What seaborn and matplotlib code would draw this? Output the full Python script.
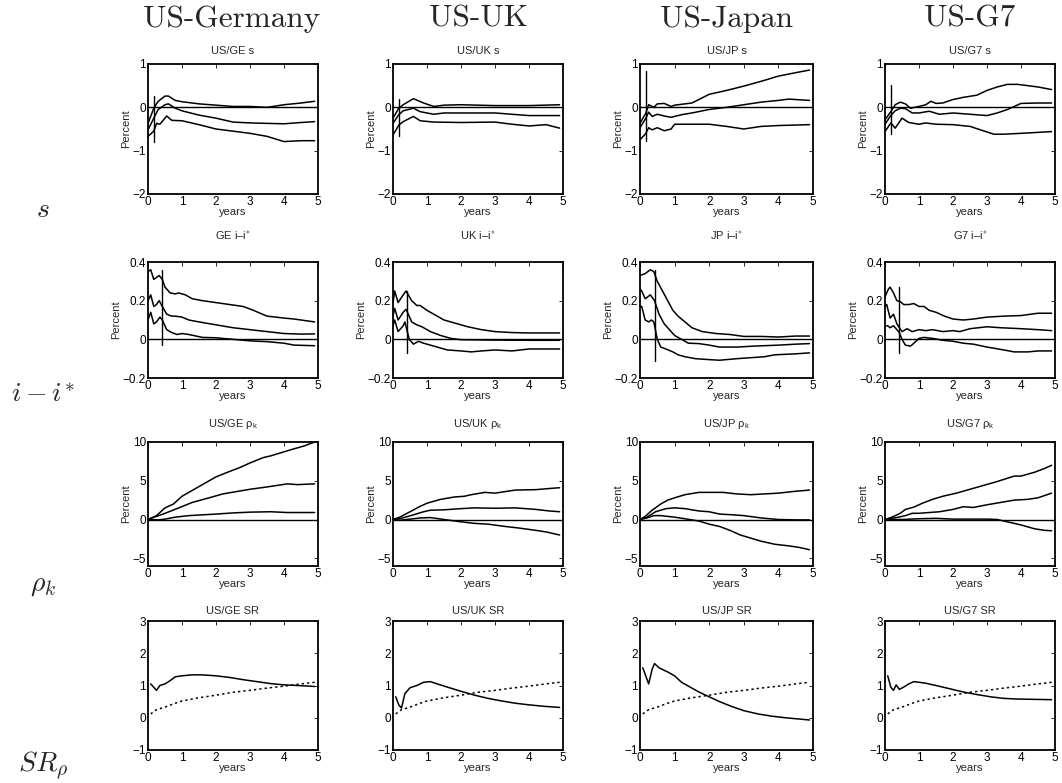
import matplotlib
matplotlib.use("Agg")
import matplotlib.pyplot as plt
import pandas as pd
import seaborn as sns

# column / row labels
col_titles = ["US-Germany", "US-UK", "US-Japan", "US-G7"]
row_labels = [r"$s$", r"$i-i^{*}$", r"$\rho_k$", r"$SR_{\rho}$"]
pairs = ["GE", "UK", "JP", "G7"]

xticks = [0, 1, 2, 3, 4, 5]
s_yticks = [-2, -1, 0, 1]
s_yticklabels = ["\u22122", "\u22121", "0", "1"]
i_yticks = [-0.2, 0, 0.2, 0.4]
i_yticklabels = ["\u22120.2", "0", "0.2", "0.4"]
rho_yticks = [-5, 0, 5, 10]
rho_yticklabels = ["\u22125", "0", "5", "10"]
sr_yticks = [-1, 0, 1, 2, 3]
sr_yticklabels = ["\u22121", "0", "1", "2", "3"]

# ---- row 1: exchange rate s (upper band, point estimate, lower band) ----
s_ge = dict(
    x_hi=[0, 0.17, 0.3, 0.5, 0.6, 0.8, 1.0, 1.5, 2.0, 2.5, 3.0, 3.5, 4.0, 4.5, 4.9],
    hi=[-0.37, -0.02, 0.14, 0.26, 0.26, 0.16, 0.13, 0.08, 0.05, 0.02, 0.02, 0.0, 0.06, 0.1, 0.14],
    x_mid=[0, 0.17, 0.3, 0.5, 0.6, 0.8, 1.0, 1.5, 2.0, 2.5, 3.0, 3.5, 4.0, 4.5, 4.9],
    mid=[-0.52, -0.25, -0.05, 0.06, 0.08, -0.02, -0.08, -0.18, -0.25, -0.34, -0.36, -0.37, -0.38, -0.35, -0.33],
    x_lo=[0, 0.17, 0.25, 0.35, 0.55, 0.7, 1.0, 1.5, 2.0, 2.5, 3.0, 3.5, 4.0, 4.5, 4.9],
    lo=[-0.67, -0.55, -0.37, -0.39, -0.2, -0.3, -0.31, -0.4, -0.5, -0.55, -0.6, -0.67, -0.79, -0.77, -0.77],
    vline=(0.17, -0.79, 0.26),
)
s_uk = dict(
    x_hi=[0, 0.17, 0.3, 0.6, 0.9, 1.2, 1.5, 2.0, 3.0, 4.0, 4.9],
    hi=[-0.25, -0.02, 0.06, 0.2, 0.1, 0.02, 0.05, 0.06, 0.04, 0.04, 0.06],
    x_mid=[0, 0.17, 0.3, 0.6, 0.8, 1.2, 1.5, 2.0, 3.0, 4.0, 4.9],
    mid=[-0.37, -0.17, -0.08, -0.02, -0.1, -0.16, -0.13, -0.13, -0.13, -0.19, -0.19],
    x_lo=[0, 0.17, 0.3, 0.6, 0.8, 1.2, 2.0, 3.0, 3.5, 4.0, 4.5, 4.9],
    lo=[-0.64, -0.41, -0.33, -0.21, -0.31, -0.34, -0.35, -0.34, -0.39, -0.43, -0.4, -0.48],
    vline=(0.17, -0.65, 0.2),
)
s_jp = dict(
    x_hi=[0, 0.17, 0.25, 0.4, 0.5, 0.7, 0.9, 1.0, 1.5, 2.0, 2.5, 3.0, 3.5, 4.0, 4.5, 4.9],
    hi=[-0.37, -0.13, 0.06, 0.0, 0.08, 0.09, 0.02, 0.05, 0.1, 0.3, 0.39, 0.49, 0.6, 0.72, 0.8, 0.86],
    x_mid=[0, 0.17, 0.25, 0.35, 0.5, 0.7, 0.9, 1.2, 1.5, 2.0, 2.5, 3.0, 3.5, 4.0, 4.3, 4.9],
    mid=[-0.47, -0.25, -0.11, -0.21, -0.16, -0.2, -0.23, -0.17, -0.13, -0.05, 0.0, 0.06, 0.12, 0.16, 0.19, 0.16],
    x_lo=[0, 0.17, 0.25, 0.35, 0.5, 0.7, 0.9, 1.0, 1.5, 2.0, 2.5, 3.0, 3.5, 4.0, 4.9],
    lo=[-0.75, -0.6, -0.47, -0.52, -0.47, -0.54, -0.5, -0.39, -0.39, -0.39, -0.44, -0.5, -0.44, -0.42, -0.4],
    vline=(0.17, -0.77, 0.85),
)
s_g7 = dict(
    x_hi=[0, 0.17, 0.3, 0.45, 0.6, 0.75, 1.0, 1.2, 1.35, 1.5, 1.7, 2.0, 2.3, 2.7, 3.0, 3.3, 3.6, 3.9, 4.2, 4.5, 4.9],
    hi=[-0.29, -0.1, 0.06, 0.12, 0.08, -0.02, 0.02, 0.06, 0.14, 0.09, 0.1, 0.18, 0.23, 0.28, 0.39, 0.47, 0.53, 0.53, 0.5, 0.47, 0.41],
    x_mid=[0, 0.17, 0.3, 0.45, 0.6, 0.8, 1.0, 1.3, 1.6, 2.0, 2.5, 3.0, 3.3, 3.6, 4.0, 4.5, 4.9],
    mid=[-0.39, -0.19, -0.08, -0.02, -0.03, -0.13, -0.13, -0.09, -0.16, -0.13, -0.16, -0.19, -0.13, -0.05, 0.09, 0.1, 0.1],
    x_lo=[0, 0.17, 0.3, 0.5, 0.7, 1.0, 1.2, 1.5, 2.0, 2.5, 3.2, 3.5, 4.0, 4.9],
    lo=[-0.56, -0.36, -0.48, -0.25, -0.35, -0.39, -0.36, -0.39, -0.4, -0.44, -0.62, -0.62, -0.6, -0.56],
    vline=(0.17, -0.62, 0.52),
)

# ---- row 2: interest differential i - i* ----
i_ge = dict(
    x_hi=[0, 0.08, 0.17, 0.25, 0.33, 0.42, 0.5, 0.65, 0.8, 0.9, 1.1, 1.3, 1.6, 2.0, 2.4, 2.8, 3.1, 3.5, 4.0, 4.3, 4.9],
    hi=[0.35, 0.36, 0.31, 0.32, 0.33, 0.31, 0.27, 0.24, 0.235, 0.24, 0.23, 0.21, 0.2, 0.19, 0.18, 0.17, 0.15, 0.12, 0.11, 0.105, 0.09],
    x_mid=[0, 0.08, 0.17, 0.25, 0.33, 0.42, 0.55, 0.7, 0.8, 1.0, 1.2, 1.5, 2.0, 2.5, 3.0, 3.5, 4.0, 4.5, 4.9],
    mid=[0.2, 0.23, 0.17, 0.18, 0.2, 0.17, 0.13, 0.12, 0.12, 0.115, 0.1, 0.09, 0.075, 0.06, 0.05, 0.04, 0.03, 0.027, 0.028],
    x_lo=[0, 0.08, 0.17, 0.25, 0.35, 0.42, 0.55, 0.7, 0.85, 1.0, 1.2, 1.6, 2.0, 2.5, 3.0, 3.5, 4.0, 4.3, 4.9],
    lo=[0.1, 0.14, 0.08, 0.09, 0.115, 0.1, 0.05, 0.035, 0.025, 0.03, 0.025, 0.01, 0.008, 0.0, -0.008, -0.012, -0.02, -0.03, -0.033],
    vline=(0.42, -0.03, 0.36),
)
i_uk = dict(
    x_hi=[0, 0.05, 0.15, 0.3, 0.38, 0.45, 0.55, 0.7, 0.8, 1.0, 1.2, 1.5, 1.8, 2.2, 2.6, 3.0, 3.5, 4.0, 4.9],
    hi=[0.19, 0.25, 0.19, 0.23, 0.25, 0.23, 0.2, 0.175, 0.175, 0.15, 0.13, 0.1, 0.085, 0.065, 0.05, 0.04, 0.035, 0.033, 0.033],
    x_mid=[0, 0.05, 0.15, 0.3, 0.38, 0.45, 0.55, 0.7, 0.85, 1.1, 1.4, 1.7, 2.0, 3.0, 4.0, 4.9],
    mid=[0.12, 0.16, 0.1, 0.14, 0.155, 0.13, 0.09, 0.075, 0.065, 0.04, 0.02, 0.005, -0.002, -0.004, -0.005, -0.005],
    x_lo=[0, 0.05, 0.15, 0.3, 0.35, 0.42, 0.48, 0.6, 0.75, 0.9, 1.1, 1.3, 1.6, 2.0, 2.3, 2.6, 3.0, 3.5, 4.0, 4.5, 4.9],
    lo=[0.07, 0.1, 0.04, 0.07, 0.09, 0.04, 0.0, -0.025, -0.01, -0.02, -0.03, -0.04, -0.055, -0.06, -0.065, -0.06, -0.055, -0.06, -0.05, -0.05, -0.05],
    vline=(0.42, -0.07, 0.25),
)
i_jp = dict(
    x_hi=[0, 0.15, 0.3, 0.4, 0.5, 0.65, 0.8, 0.95, 1.1, 1.3, 1.5, 1.8, 2.2, 2.6, 3.0, 3.5, 4.0, 4.5, 4.9],
    hi=[0.33, 0.34, 0.36, 0.35, 0.3, 0.25, 0.2, 0.15, 0.12, 0.09, 0.06, 0.04, 0.03, 0.025, 0.015, 0.015, 0.012, 0.017, 0.017],
    x_mid=[0, 0.05, 0.15, 0.3, 0.42, 0.55, 0.7, 0.85, 1.0, 1.2, 1.4, 1.7, 2.0, 2.3, 2.8, 3.3, 4.0, 4.5, 4.9],
    mid=[0.26, 0.25, 0.21, 0.23, 0.2, 0.13, 0.08, 0.05, 0.02, 0.0, -0.02, -0.022, -0.03, -0.04, -0.04, -0.035, -0.03, -0.025, -0.022],
    x_lo=[0, 0.05, 0.15, 0.25, 0.33, 0.4, 0.5, 0.6, 0.75, 0.95, 1.1, 1.3, 1.6, 2.0, 2.3, 2.8, 3.2, 3.6, 3.9, 4.5, 4.9],
    lo=[0.17, 0.17, 0.1, 0.09, 0.1, 0.09, 0.0, -0.04, -0.05, -0.065, -0.08, -0.09, -0.1, -0.105, -0.108, -0.1, -0.095, -0.09, -0.08, -0.075, -0.07],
    vline=(0.42, -0.11, 0.36),
)
i_g7 = dict(
    x_hi=[0, 0.1, 0.15, 0.25, 0.35, 0.45, 0.55, 0.7, 0.85, 1.0, 1.15, 1.3, 1.5, 1.75, 2.0, 2.3, 2.6, 3.0, 3.5, 4.0, 4.5, 4.9],
    hi=[0.22, 0.26, 0.27, 0.24, 0.2, 0.195, 0.18, 0.18, 0.185, 0.17, 0.17, 0.15, 0.14, 0.12, 0.105, 0.1, 0.105, 0.115, 0.12, 0.123, 0.135, 0.135],
    x_mid=[0, 0.05, 0.15, 0.25, 0.35, 0.5, 0.65, 0.8, 1.0, 1.2, 1.4, 1.7, 2.0, 2.2, 2.5, 3.0, 3.4, 4.0, 4.5, 4.9],
    mid=[0.17, 0.18, 0.11, 0.13, 0.08, 0.04, 0.055, 0.04, 0.05, 0.045, 0.05, 0.04, 0.045, 0.04, 0.055, 0.065, 0.06, 0.055, 0.05, 0.045],
    x_lo=[0, 0.08, 0.15, 0.25, 0.35, 0.42, 0.5, 0.6, 0.75, 0.85, 1.0, 1.15, 1.4, 1.7, 2.0, 2.3, 2.6, 3.0, 3.5, 3.8, 4.2, 4.5, 4.9],
    lo=[0.07, 0.07, 0.06, 0.07, 0.05, 0.035, 0.0, -0.03, -0.035, -0.02, 0.005, 0.01, 0.005, -0.005, -0.01, -0.02, -0.025, -0.04, -0.055, -0.065, -0.065, -0.06, -0.06],
    vline=(0.42, -0.07, 0.27),
)

# ---- row 3: rho_k ----
rho_ge = dict(
    x_hi=[0, 0.25, 0.5, 0.75, 1.0, 1.4, 1.8, 2.0, 2.4, 2.7, 3.0, 3.4, 3.6, 3.9, 4.2, 4.6, 4.9],
    hi=[0, 0.5, 1.5, 2.0, 3.0, 4.0, 5.0, 5.5, 6.2, 6.7, 7.3, 8.0, 8.2, 8.6, 9.0, 9.5, 10.0],
    x_mid=[0, 0.25, 0.5, 0.85, 1.3, 1.8, 2.2, 2.6, 3.0, 3.5, 3.8, 4.1, 4.4, 4.9],
    mid=[0, 0.4, 0.8, 1.4, 2.2, 2.8, 3.3, 3.6, 3.9, 4.2, 4.4, 4.6, 4.5, 4.6],
    x_lo=[0, 0.3, 0.5, 0.8, 1.2, 2.0, 2.5, 3.0, 3.6, 4.1, 4.9],
    lo=[0, -0.05, 0.05, 0.3, 0.5, 0.7, 0.85, 0.95, 1.0, 0.9, 0.9],
    vline=None,
)
rho_uk = dict(
    x_hi=[0, 0.2, 0.5, 0.8, 1.0, 1.4, 1.8, 2.1, 2.3, 2.7, 3.0, 3.3, 3.6, 4.2, 4.6, 4.9],
    hi=[0, 0.3, 1.0, 1.7, 2.1, 2.6, 2.9, 3.0, 3.2, 3.5, 3.4, 3.6, 3.8, 3.85, 4.0, 4.1],
    x_mid=[0, 0.2, 0.6, 0.9, 1.1, 1.5, 2.0, 2.4, 3.0, 3.6, 4.2, 4.6, 4.9],
    mid=[0, 0.1, 0.6, 1.0, 1.2, 1.25, 1.4, 1.5, 1.45, 1.5, 1.3, 1.1, 1.0],
    x_lo=[0, 0.2, 0.4, 0.8, 1.1, 1.5, 2.0, 2.4, 2.8, 3.3, 3.7, 4.2, 4.5, 4.9],
    lo=[0, -0.1, 0.0, 0.2, 0.25, 0.0, -0.3, -0.5, -0.6, -0.9, -1.1, -1.4, -1.6, -2.0],
    vline=None,
)
rho_jp = dict(
    x_hi=[0, 0.15, 0.35, 0.6, 0.8, 1.0, 1.3, 1.7, 2.0, 2.4, 2.8, 3.2, 3.6, 4.0, 4.4, 4.9],
    hi=[0, 0.4, 1.2, 2.0, 2.5, 2.8, 3.2, 3.5, 3.5, 3.5, 3.3, 3.2, 3.3, 3.4, 3.6, 3.8],
    x_mid=[0, 0.2, 0.45, 0.75, 1.0, 1.3, 1.7, 2.0, 2.3, 2.7, 3.0, 3.5, 4.0, 4.5, 4.9],
    mid=[0, 0.3, 1.0, 1.4, 1.5, 1.4, 1.1, 1.0, 0.7, 0.6, 0.5, 0.2, 0.0, -0.05, -0.05],
    x_lo=[0, 0.2, 0.4, 0.6, 1.0, 1.3, 1.7, 2.0, 2.3, 2.6, 2.9, 3.2, 3.5, 3.9, 4.3, 4.6, 4.9],
    lo=[0, 0.2, 0.5, 0.5, 0.3, 0.1, -0.2, -0.6, -0.9, -1.4, -2.0, -2.4, -2.8, -3.2, -3.4, -3.6, -3.9],
    vline=None,
)
rho_g7 = dict(
    x_hi=[0, 0.2, 0.45, 0.6, 0.85, 1.1, 1.4, 1.7, 2.1, 2.5, 2.9, 3.3, 3.8, 4.0, 4.4, 4.7, 4.9],
    hi=[0, 0.3, 0.8, 1.3, 1.6, 2.1, 2.6, 3.0, 3.4, 3.9, 4.4, 4.9, 5.6, 5.6, 6.1, 6.6, 7.0],
    x_mid=[0, 0.4, 0.6, 0.8, 1.0, 1.3, 1.6, 2.0, 2.3, 2.6, 3.0, 3.4, 3.8, 4.2, 4.5, 4.9],
    mid=[0, 0.3, 0.5, 0.8, 0.8, 0.9, 1.0, 1.3, 1.65, 1.55, 1.9, 2.2, 2.5, 2.6, 2.8, 3.4],
    x_lo=[0, 0.5, 1.0, 1.5, 2.0, 2.5, 3.0, 3.3, 3.6, 4.0, 4.4, 4.7, 4.9],
    lo=[0, 0.0, 0.1, 0.15, 0.05, 0.05, 0.05, 0.0, -0.3, -0.7, -1.2, -1.4, -1.45],
    vline=None,
)

# ---- row 4: Sharpe ratio (solid) and reference curve (dotted) ----
sr_x_ge = [0.08, 0.25, 0.35, 0.5, 0.65, 0.8, 1.0, 1.3, 1.6, 2.0, 2.4, 2.8, 3.2, 3.6, 4.0, 4.4, 4.9]
sr_ge = [1.05, 0.85, 1.0, 1.05, 1.15, 1.27, 1.3, 1.33, 1.33, 1.3, 1.25, 1.18, 1.12, 1.06, 1.02, 1.0, 0.97]
sr_x_uk = [0.08, 0.17, 0.25, 0.35, 0.5, 0.7, 0.9, 1.1, 1.3, 1.6, 2.0, 2.4, 2.8, 3.2, 3.6, 4.0, 4.5, 4.9]
sr_uk = [0.65, 0.4, 0.3, 0.75, 0.93, 1.0, 1.1, 1.12, 1.05, 0.95, 0.82, 0.7, 0.6, 0.52, 0.45, 0.4, 0.35, 0.32]
sr_x_jp = [0.08, 0.25, 0.35, 0.42, 0.55, 0.7, 0.8, 1.0, 1.2, 1.45, 1.7, 2.0, 2.3, 2.65, 3.0, 3.4, 3.8, 4.2, 4.6, 4.9]
sr_jp = [1.55, 1.05, 1.5, 1.68, 1.55, 1.47, 1.42, 1.3, 1.1, 0.95, 0.8, 0.65, 0.5, 0.35, 0.22, 0.12, 0.05, 0.0, -0.04, -0.07]
sr_x_g7 = [0.08, 0.17, 0.25, 0.33, 0.42, 0.55, 0.7, 0.85, 1.0, 1.2, 1.5, 1.9, 2.3, 2.7, 3.1, 3.5, 3.9, 4.4, 4.9]
sr_g7 = [1.3, 0.95, 0.85, 1.02, 0.88, 0.95, 1.05, 1.12, 1.1, 1.07, 1.0, 0.9, 0.8, 0.72, 0.65, 0.6, 0.58, 0.57, 0.56]
sr_ref_x = [0.08, 0.25, 0.5, 0.8, 1.0, 1.5, 2.0, 2.5, 3.0, 3.5, 4.0, 4.5, 4.9]
sr_ref = [0.12, 0.25, 0.33, 0.45, 0.52, 0.62, 0.7, 0.79, 0.85, 0.92, 0.98, 1.05, 1.1]

s_panels = [s_ge, s_uk, s_jp, s_g7]
i_panels = [i_ge, i_uk, i_jp, i_g7]
rho_panels = [rho_ge, rho_uk, rho_jp, rho_g7]
sr_panels = [(sr_x_ge, sr_ge), (sr_x_uk, sr_uk), (sr_x_jp, sr_jp), (sr_x_g7, sr_g7)]

sns.set_style("white")
plt.rcParams["font.family"] = ["Liberation Sans", "DejaVu Sans"]
plt.rcParams["mathtext.fontset"] = "cm"

W, H = 1062, 783
fig = plt.figure(figsize=(W / 100, H / 100), dpi=100)

col_left = [148, 393, 640, 885]
col_width = [170, 170, 173, 170]
row_box = [(64, 194), (262, 378), (442, 566), (621, 750)]
title_pad = [7, 16, 11, 5]


def make_ax(r, c):
    top, bot = row_box[r]
    ax = fig.add_axes([col_left[c] / W, 1 - bot / H, col_width[c] / W, (bot - top) / H])
    ax.tick_params(direction="in", top=True, right=True, length=3, width=0.6,
                   labelsize=8.5, pad=1.5, colors="black")
    for sp in ax.spines.values():
        sp.set_linewidth(1.3)
        sp.set_color("black")
    ax.set_xlim(0, 5)
    ax.set_xticks(xticks)
    ax.set_xticklabels([str(t) for t in xticks])
    return ax


def draw_line(ax, x, y, ls="-"):
    df = pd.DataFrame({"x": x, "y": y})
    sns.lineplot(data=df, x="x", y="y", ax=ax, color="black", lw=1.1,
                 linestyle=ls, estimator=None, sort=False)


def finish(ax, r, title, yticks, yticklabels, ylim, ylabel):
    ax.set_ylim(*ylim)
    ax.set_yticks(yticks)
    ax.set_yticklabels(yticklabels)
    ax.set_ylabel(ylabel, fontsize=8, labelpad=1)
    ax.set_xlabel("years", fontsize=8, labelpad=-1)
    ax.set_title(title, fontsize=8, pad=title_pad[r])


def band_panel(ax, r, p, title, yticks, yticklabels, ylim):
    ax.axhline(0, color="black", lw=1.0)
    draw_line(ax, p["x_hi"], p["hi"])
    draw_line(ax, p["x_mid"], p["mid"])
    draw_line(ax, p["x_lo"], p["lo"])
    if p["vline"] is not None:
        vx, v0, v1 = p["vline"]
        ax.plot([vx, vx], [v0, v1], color="black", lw=1.0)
    finish(ax, r, title, yticks, yticklabels, ylim, "Percent")


for c, pr in enumerate(pairs):
    ax = make_ax(0, c)
    band_panel(ax, 0, s_panels[c], f"US/{pr} s", s_yticks, s_yticklabels, (-2, 1))

    ax = make_ax(1, c)
    band_panel(ax, 1, i_panels[c], f"{pr} i\u2013i$^{{*}}$", i_yticks, i_yticklabels, (-0.2, 0.4))

    ax = make_ax(2, c)
    band_panel(ax, 2, rho_panels[c], f"US/{pr} $\\mathregular{{\\rho_k}}$", rho_yticks,
               rho_yticklabels, (-6, 10))

    ax = make_ax(3, c)
    sx, sy = sr_panels[c]
    draw_line(ax, sx, sy)
    draw_line(ax, sr_ref_x, sr_ref, ls=(0, (1.5, 2)))
    finish(ax, 3, f"US/{pr} SR", sr_yticks, sr_yticklabels, (-1, 3), "")

# column headers and row labels (LaTeX style)
col_center = [232, 478, 727, 970]
for c, t in enumerate(col_titles):
    fig.text(col_center[c] / W, 1 - 19 / H, t, family="cmr10", fontsize=22.5,
             ha="center", va="center")
row_y = [210, 395, 585, 766]
for r, t in enumerate(row_labels):
    fig.text(43 / W, 1 - row_y[r] / H, t, fontsize=20, ha="center", va="center")

fig.savefig("out.png", dpi=100)
